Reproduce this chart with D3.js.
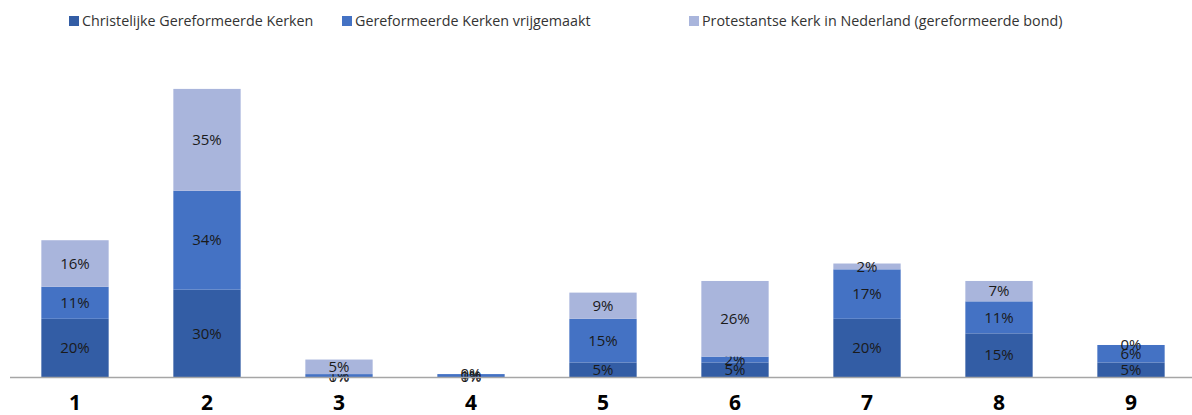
<!DOCTYPE html>
<html>
<head>
<meta charset="utf-8">
<script src="https://cdn.jsdelivr.net/npm/d3@7"></script>
<style>
  body { margin: 0; background: #fff; }
  text { font-family: "Open Sans", "Noto Sans", sans-serif; }
</style>
</head>
<body>
<div id="chart"></div>
<script>
// chart data
var categories = ["1", "2", "3", "4", "5", "6", "7", "8", "9"];
var seriesNames = [
  "Christelijke Gereformeerde Kerken",
  "Gereformeerde Kerken vrijgemaakt",
  "Protestantse Kerk in Nederland (gereformeerde bond)"
];
var cgk = [20, 30, 0, 0, 5, 5, 20, 15, 5];
var gkv = [11, 34, 1, 1, 15, 2, 17, 11, 6];
var pkn = [16, 35, 5, 0, 9, 26, 2, 7, 0];

var colors = ["#335da5", "#4472c4", "#a9b5dc"];

var svgWidth = 1192;
var svgHeight = 415;

var svg = d3.select("#chart")
  .append("svg")
  .attr("width", svgWidth)
  .attr("height", svgHeight);

// build rows for the stack
var rows = categories.map(function(c, i) {
  return { cat: c, s0: cgk[i], s1: gkv[i], s2: pkn[i] };
});
var keys = ["s0", "s1", "s2"];
var stacked = d3.stack().keys(keys)(rows);

var xScale = d3.scaleBand()
  .domain(categories)
  .range([9, 1197])
  .paddingInner(0.49)
  .paddingOuter(0.245);

var yScale = d3.scaleLinear()
  .domain([0, 100])
  .range([377, 86]);

// bars
var layers = svg.selectAll("g.layer")
  .data(stacked)
  .enter()
  .append("g")
  .attr("class", "layer")
  .attr("fill", function(d, i) { return colors[i]; });

layers.selectAll("rect")
  .data(function(d) { return d; })
  .enter()
  .append("rect")
  .attr("x", function(d) { return xScale(d.data.cat); })
  .attr("y", function(d) { return yScale(d[1]); })
  .attr("width", xScale.bandwidth())
  .attr("height", function(d) { return yScale(d[0]) - yScale(d[1]); });

// value labels
layers.selectAll("text")
  .data(function(d) { return d; })
  .enter()
  .append("text")
  .attr("x", function(d) { return xScale(d.data.cat) + xScale.bandwidth() / 2; })
  .attr("y", function(d) { return (yScale(d[0]) + yScale(d[1])) / 2; })
  .attr("dy", "0.35em")
  .attr("text-anchor", "middle")
  .attr("fill", "#1a1a1a")
  .style("font-size", "15px")
  .text(function(d) { return (d[1] - d[0]) + "%"; });

// x axis
var bottomAxis = d3.axisBottom(xScale).tickSize(0).tickPadding(18);
var axisG = svg.append("g")
  .attr("transform", "translate(0, 377)")
  .call(bottomAxis);
axisG.select(".domain")
  .attr("d", "M10,0.5H1192")
  .attr("stroke", "#a6a6a6")
  .attr("stroke-width", 1.5);
axisG.selectAll("text")
  .style("font-size", "21px")
  .style("font-weight", "bold")
  .style("font-family", "\"Open Sans\", sans-serif")
  .attr("fill", "#000");

// legend
var legendX = [69, 342, 689];
var legend = svg.selectAll("g.legend")
  .data(seriesNames)
  .enter()
  .append("g")
  .attr("class", "legend")
  .attr("transform", function(d, i) { return "translate(" + legendX[i] + ", 21)"; });

legend.append("rect")
  .attr("x", 0)
  .attr("y", -5)
  .attr("width", 10)
  .attr("height", 10)
  .attr("fill", function(d, i) { return colors[i]; });

legend.append("text")
  .attr("x", 13)
  .attr("y", 0)
  .attr("dy", "0.35em")
  .attr("fill", "#333")
  .style("font-size", "14.3px")
  .text(function(d) { return d; });
</script>
</body>
</html>
